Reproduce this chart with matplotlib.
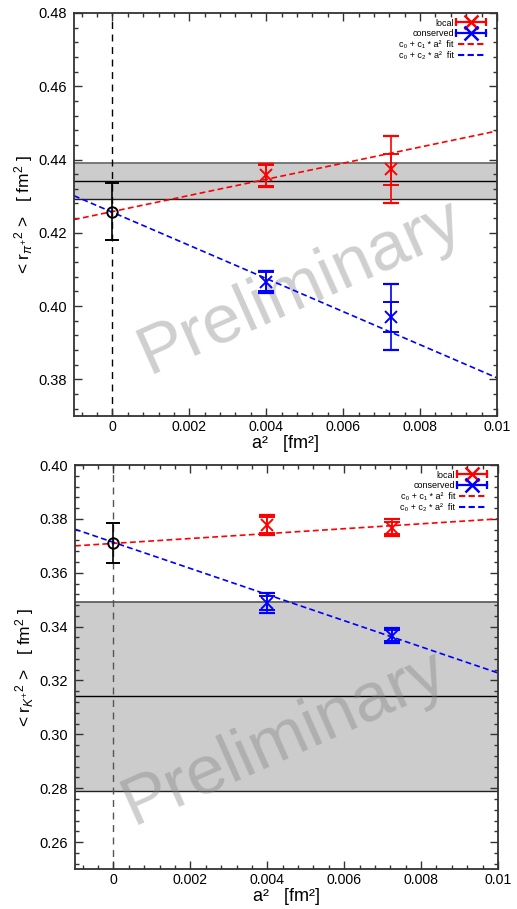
import matplotlib
matplotlib.use("Agg")
import matplotlib.pyplot as plt
import numpy as np
from matplotlib.ticker import MultipleLocator, FormatStrFormatter, FuncFormatter

plt.rcParams['font.family'] = ['Liberation Sans', 'DejaVu Sans']
plt.rcParams['mathtext.fontset'] = 'custom'
plt.rcParams['mathtext.rm'] = 'Liberation Sans'
plt.rcParams['mathtext.it'] = 'Liberation Sans:italic'
plt.rcParams['mathtext.bf'] = 'Liberation Sans:bold'

# ---------------- data ----------------
a2 = [0.004, 0.00725]

# pion panel
pi_local_y = [0.4357, 0.4373]
pi_local_err_in = [0.0028, 0.0043]
pi_local_err_out = [0.0031, 0.0092]
pi_cons_y = [0.4067, 0.3970]
pi_cons_err_in = [0.0027, 0.0040]
pi_cons_err_out = [0.0030, 0.0090]
pi_cont_y = 0.4257
pi_cont_err = 0.0078
pi_band_center = 0.4341
pi_band_half = 0.0050
pi_fit_local = (0.4258, 2.20)     # c0, c1
pi_fit_cons = (0.4256, -4.52)     # c0, c2

# kaon panel
k_local_y = [0.3777, 0.3767]
k_local_err_in = [0.0029, 0.0023]
k_local_err_out = [0.0037, 0.0032]
k_cons_y = [0.3488, 0.3367]
k_cons_err_in = [0.0025, 0.0019]
k_cons_err_out = [0.0036, 0.0029]
k_cont_y = 0.3711
k_cont_err = 0.0074
k_band_center = 0.3141
k_band_half = 0.0350
k_fit_local = (0.3709, 0.91)
k_fit_cons = (0.3713, -4.85)

xlim = (-0.001, 0.01)
pi_ylim = (0.37, 0.48)
k_ylim = (0.25, 0.40)

legend_labels = ['local', 'conserved',
                 'c\u2080 + c\u2081 * a\u00b2  fit',
                 'c\u2080 + c\u2082 * a\u00b2  fit']
x_label = 'a\u00b2   [fm\u00b2]'

RED = '#ff0000'
BLUE = '#0000ff'


def draw_legend(ax):
    fig = ax.figure
    bb = ax.get_position()
    H = fig.get_figheight() * fig.dpi * bb.height
    rows_px = [9.3, 20.0, 30.8, 41.6]      # row centres below axes top (px)
    text_right = 380.0 / 423.0
    h0, h1 = 382.0 / 423.0, 412.0 / 423.0
    colors = [RED, BLUE, RED, BLUE]
    kinds = ['err', 'err', 'fit', 'fit']
    tr = ax.transAxes
    for lab, rp, col, kind in zip(legend_labels, rows_px, colors, kinds):
        yc = 1 - rp / H
        yb = 1 - (rp + 3.3) / H
        ax.text(text_right, yb, lab, transform=tr, ha='right', va='baseline',
                fontsize=6.5, zorder=6)
        if kind == 'err':
            ax.plot([h0, h1], [yc, yc], color=col, lw=1.6, transform=tr,
                    clip_on=False, zorder=6)
            ax.plot([h0, h1], [yc, yc], color=col, marker='|', ls='none',
                    ms=6, mew=1.6, transform=tr, clip_on=False, zorder=6)
            ax.plot([(h0 + h1) / 2], [yc], color=col, marker='x', ls='none',
                    ms=9.5, mew=1.8, transform=tr, clip_on=False, zorder=6)
        else:
            ax.plot([h0 + 0.004, h1], [yc, yc], color=col, lw=1.5,
                    dashes=(3, 1.6), transform=tr, clip_on=False, zorder=6)


def panel(ax, ly, lin, lout, cy, cin, cout, y0, e0, bc, bh, fl, fc, ylim,
          ylabel, wm_pos, vcolor, bandtopcolor):
    ax.set_xlim(*xlim)
    ax.set_ylim(*ylim)
    # band
    ax.axhspan(bc - bh, bc + bh, facecolor='#cccccc', edgecolor='none', zorder=0.5)
    ax.axhline(bc + bh, color=bandtopcolor, lw=1.3, zorder=0.6)
    ax.axhline(bc, color='black', lw=1.0, zorder=0.6)
    ax.axhline(bc - bh, color='#202020', lw=1.0, zorder=0.6)
    # watermark
    ax.text(wm_pos[0], wm_pos[1], 'Preliminary', transform=ax.transAxes,
            fontsize=50, color='#808080', alpha=0.38, rotation=24,
            ha='center', va='center', zorder=0.8)
    # vertical line at 0
    ax.axvline(0, color=vcolor, lw=1.0, dashes=(5, 4), zorder=1)
    # fits
    xf = np.array(xlim)
    ax.plot(xf, fl[0] + fl[1] * xf, color=RED, lw=1.2, dashes=(3.5, 2), zorder=2)
    ax.plot(xf, fc[0] + fc[1] * xf, color=BLUE, lw=1.2, dashes=(3.5, 2), zorder=2)
    # data
    for yv, ein, eout, col in ((ly, lin, lout, RED), (cy, cin, cout, BLUE)):
        ax.errorbar(a2, yv, yerr=eout, fmt='none', ecolor=col, elinewidth=1.2,
                    capsize=5.6, capthick=1.6, zorder=3)
        ax.errorbar(a2, yv, yerr=ein, fmt='x', color=col, ms=8, mew=1.4,
                    elinewidth=1.2, capsize=5.6, capthick=1.6, zorder=3)
    ax.errorbar([0.0], [y0], yerr=[e0], fmt='o', mfc='none', mec='black',
                ecolor='black', ms=7.5, mew=1.4, elinewidth=1.2, capsize=5,
                capthick=1.4, zorder=4)
    # axes style
    for s in ax.spines.values():
        s.set_color('#333333')
        s.set_linewidth(1.3)
    ax.xaxis.set_major_locator(MultipleLocator(0.002))
    ax.xaxis.set_minor_locator(MultipleLocator(0.0004))
    ax.yaxis.set_major_locator(MultipleLocator(0.02))
    ax.yaxis.set_minor_locator(MultipleLocator(0.004))
    ax.xaxis.set_major_formatter(
        FuncFormatter(lambda v, p: '0' if abs(v) < 1e-12 else ('%g' % round(v, 6))))
    ax.yaxis.set_major_formatter(FormatStrFormatter('%.2f'))
    ax.tick_params(which='both', direction='in', top=True, right=True,
                   color='#333333', width=1.0)
    ax.tick_params(which='major', length=6, labelsize=10.5)
    ax.tick_params(which='minor', length=3)
    ax.tick_params(axis='y', pad=5)
    ax.tick_params(axis='x', pad=3.0, labelsize=10.2)
    ax.set_xlabel(x_label, fontsize=13, labelpad=0.5)
    ax.set_ylabel(ylabel, fontsize=12.5, labelpad=2.5)
    draw_legend(ax)


fig = plt.figure(figsize=(5.17, 9.09), dpi=100)
ax1 = fig.add_axes([0.1431, 0.5424, 0.8182, 0.4433])
ax2 = fig.add_axes([0.1451, 0.0440, 0.8182, 0.4444])

panel(ax1, pi_local_y, pi_local_err_in, pi_local_err_out,
      pi_cons_y, pi_cons_err_in, pi_cons_err_out,
      pi_cont_y, pi_cont_err, pi_band_center, pi_band_half,
      pi_fit_local, pi_fit_cons, pi_ylim,
      r'< r$_{\pi^{+}}$$^{2}$ >   [ fm$^2$ ]', (0.535, 0.32), 'black', '#707070')
panel(ax2, k_local_y, k_local_err_in, k_local_err_out,
      k_cons_y, k_cons_err_in, k_cons_err_out,
      k_cont_y, k_cont_err, k_band_center, k_band_half,
      k_fit_local, k_fit_cons, k_ylim,
      r'< r$_{K^{+}}$$^{2}$ >   [ fm$^2$ ]', (0.495, 0.324), '#555555', '#606060')

fig.savefig('out.png', dpi=100)
